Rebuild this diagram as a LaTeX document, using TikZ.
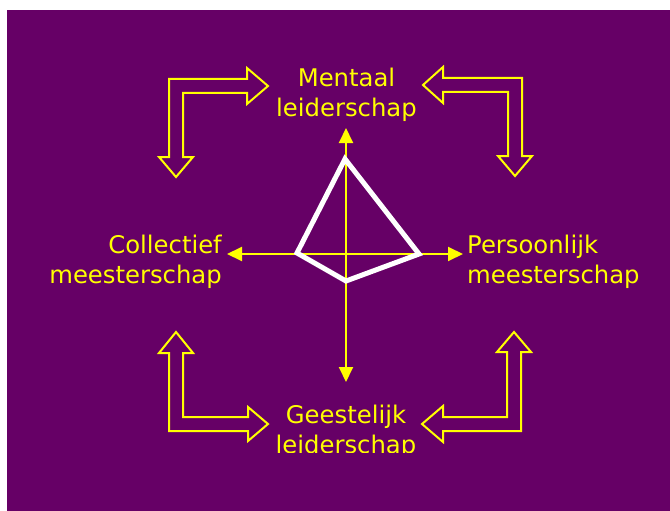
\documentclass[tikz,border=0pt]{standalone}
\usepackage{fontspec}
\setmainfont{DejaVu Sans}
\usetikzlibrary{arrows.meta}
\definecolor{bgpurple}{RGB}{102,0,102}
\definecolor{ylw}{RGB}{255,255,0}
\tikzset{
  lbl/.style={text=ylw, inner sep=0pt, font=\fontsize{24.3}{30.5}\selectfont},
  axis/.style={draw=ylw, line width=2pt, {Triangle[length=15pt,width=14pt]}-{Triangle[length=15pt,width=14pt]}},
  blockarrow/.style={draw=ylw, line width=2pt, line join=miter},
  kite/.style={draw=white, line width=5pt, line join=miter}
}
\begin{document}
\begin{tikzpicture}[x=1pt, y=-1pt]
\useasboundingbox (0,0) rectangle (670,511);
\fill[bgpurple] (7,10) rectangle (670,511);

% axes
\coordinate (axT) at (346,128);
\coordinate (axB) at (346,382);
\coordinate (axL) at (227,254);
\coordinate (axR) at (463,254);
\draw[axis] (axT) -- (axB);
\draw[axis] (axL) -- (axR);

% kite
\coordinate (kT) at (345,159);
\coordinate (kR) at (419,254);
\coordinate (kB) at (346,281);
\coordinate (kL) at (297,253);
\draw[kite] (kT) -- (kR) -- (kB) -- (kL) -- cycle;

% labels (base anchor = baseline of last line)
\node[lbl, anchor=base, align=center] (ment) at (346.5,117) {Mentaal\\leiderschap};
\node[lbl, anchor=base east, align=right] (coll) at (222,283.5) {Collectief\\meesterschap};
\node[lbl, anchor=base west, align=left] (pers) at (467,283.5) {Persoonlijk\\meesterschap};
\begin{scope}
\clip (0,0) rectangle (670,452);
\node[lbl, anchor=base, align=center] (gees) at (346,453.5) {Geestelijk\\leiderschap};
\end{scope}

% L-shaped outline arrows
\draw[blockarrow] (169,79) -- (247,79) -- (247,68) -- (268,86) -- (247,104) -- (247,93) -- (183,93) -- (183,157) -- (193,157) -- (176,177) -- (159,157) -- (169,157) -- cycle;
\draw[blockarrow] (522,78) -- (443,78) -- (443,67) -- (423,85) -- (443,103) -- (443,92) -- (508,92) -- (508,156) -- (498,156) -- (515,176) -- (532,156) -- (522,156) -- cycle;
\draw[blockarrow] (169,431) -- (169,353) -- (159,353) -- (176,332) -- (193,353) -- (183,353) -- (183,417) -- (248,417) -- (248,407) -- (268,424) -- (248,441) -- (248,431) -- cycle;
\draw[blockarrow] (521,431) -- (521,352) -- (531,352) -- (514,332) -- (497,352) -- (507,352) -- (507,417) -- (443,417) -- (443,406) -- (422,424) -- (443,442) -- (443,431) -- cycle;
\end{tikzpicture}
\end{document}
